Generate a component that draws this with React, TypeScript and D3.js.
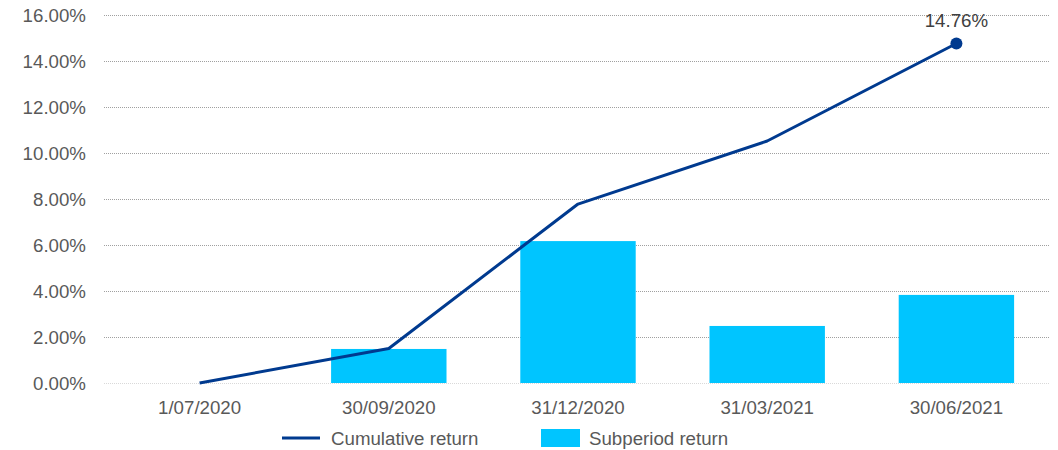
import React from "react";
import * as d3 from "d3";

const categories = ["1/07/2020", "30/09/2020", "31/12/2020", "31/03/2021", "30/06/2021"];
const subperiodReturn = [0, 1.48, 6.17, 2.48, 3.83];
const cumulativeReturn = [0, 1.5, 7.78, 10.52, 14.76];
const yTicks = [0, 2, 4, 6, 8, 10, 12, 14, 16];

const W = 1058;
const H = 450;
const left = 104;
const right = 1050;
const top = 15;
const bottom = 383;
const FONT = "'Liberation Sans', Arial, sans-serif";
const FS = 18.7;

export default function App() {
  const x = d3.scaleBand<string>().domain(categories).range([left + 1, right + 1]).paddingInner(0.39).paddingOuter(0.195);
  const xc = d3.scalePoint<string>().domain(categories).range([left + 1, right + 1]).padding(0.5);
  const y = d3.scaleLinear().domain([0, 16]).range([bottom, top]);
  const line = d3
    .line<number>()
    .x((_, i) => xc(categories[i]) as number)
    .y((d) => y(d));
  const lastI = cumulativeReturn.length - 1;
  return (
    <svg width={W} height={H} style={{ position: "absolute", left: 0, top: 0, background: "#fff" }} fontFamily={FONT}>
      {yTicks.map((t) => (
        <g key={t}>
          <line
            x1={left}
            x2={right}
            y1={Math.round(y(t)) + 0.5}
            y2={Math.round(y(t)) + 0.5}
            stroke={t === 0 ? "#d9d9d9" : "#a0a0a0"}
            strokeWidth={1}
            strokeDasharray="1,1"
          />
          <text x={86} y={y(t)} dy="0.35em" textAnchor="end" fontSize={FS} fill="#595959">
            {t.toFixed(2) + "%"}
          </text>
        </g>
      ))}
      {categories.map((c, i) =>
        subperiodReturn[i] > 0 ? (
          <rect key={c} x={x(c)} width={x.bandwidth()} y={y(subperiodReturn[i])} height={bottom - y(subperiodReturn[i])} fill="#00c5ff" />
        ) : null
      )}
      <path d={line(cumulativeReturn) || ""} fill="none" stroke="#003a8f" strokeWidth={3} strokeLinejoin="round" />
      <circle cx={xc(categories[lastI])} cy={y(cumulativeReturn[lastI])} r={6} fill="#003a8f" />
      <text x={xc(categories[lastI])} y={y(cumulativeReturn[lastI]) - 17} textAnchor="middle" fontSize={FS} fill="#404040">
        {cumulativeReturn[lastI].toFixed(2) + "%"}
      </text>
      {categories.map((c) => (
        <text key={c} x={xc(c)} y={407} dy="0.35em" textAnchor="middle" fontSize={FS} fill="#595959">
          {c}
        </text>
      ))}
      <line x1={282} x2={320} y1={438} y2={438} stroke="#003a8f" strokeWidth={3} />
      <text x={331} y={438} dy="0.35em" fontSize={FS} fill="#595959">Cumulative return</text>
      <rect x={541} y={429} width={39} height={18} fill="#00c5ff" />
      <text x={589} y={438} dy="0.35em" fontSize={FS} fill="#595959">Subperiod return</text>
    </svg>
  );
}
